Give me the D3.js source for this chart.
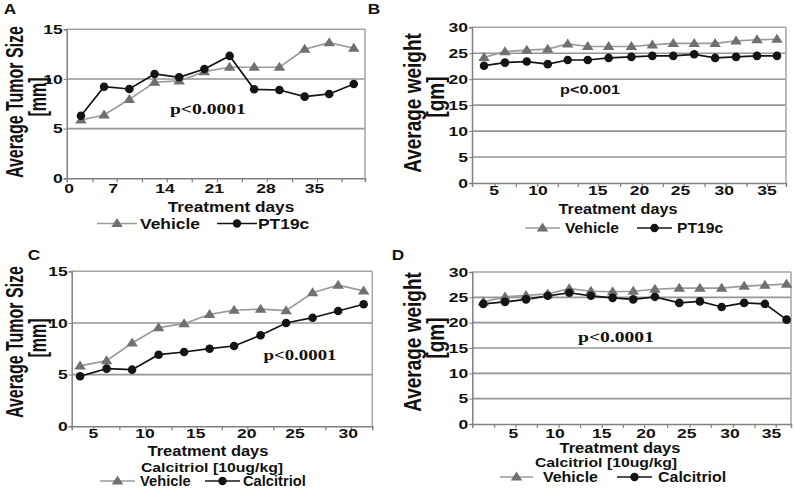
<!DOCTYPE html>
<html><head><meta charset="utf-8">
<script src="https://cdn.jsdelivr.net/npm/d3@7"></script>
<style>
body{margin:0;background:#fff}
svg{display:block}
text{font-family:"Liberation Sans",Arial,sans-serif;font-weight:bold;fill:#111}
</style></head>
<body><svg id="c" width="795" height="489"></svg>
<script>
// ---------- Panel A : tumour size, Vehicle vs PT19c ----------
const aDays     = [1.7, 5.0, 8.6, 12.2, 15.7, 19.3, 22.9, 26.4, 30.0, 33.6, 37.1, 40.6];
const aVehicle  = [5.87, 6.37, 7.95, 9.67, 9.8, 10.74, 11.18, 11.18, 11.18, 12.99, 13.65, 13.09];
const aPT19c    = [6.3, 9.22, 8.99, 10.5, 10.17, 11.0, 12.32, 8.96, 8.89, 8.22, 8.49, 9.5];
const aXTickAt  = [0, 6.3, 13.7, 20.7, 28.1, 35];
const aXLabels  = ["0", "7", "14", "21", "28", "35"];
const aYTicks   = [0, 5, 10, 15];

// ---------- Panel B : weight, Vehicle vs PT19c ----------
const bDays     = [3.9, 6.2, 8.6, 10.9, 13.1, 15.3, 17.6, 20.1, 22.4, 24.7, 27.0, 29.3, 31.6, 33.9, 36.1];
const bVehicle  = [24.2, 25.3, 25.6, 25.8, 26.8, 26.3, 26.3, 26.3, 26.6, 26.9, 26.9, 26.9, 27.4, 27.6, 27.7];
const bPT19c    = [22.6, 23.2, 23.4, 22.9, 23.7, 23.7, 24.1, 24.3, 24.5, 24.5, 24.8, 24.1, 24.3, 24.5, 24.5];
const bXTickAt  = [5, 9.84, 16.4, 21.0, 25.5, 30.3, 35];
const bXLabels  = ["5", "10", "15", "20", "25", "30", "35"];
const bYTicks   = [0, 5, 10, 15, 20, 25, 30];

// ---------- Panel C : tumour size, Vehicle vs Calcitriol ----------
const cDays       = [3.7, 6.3, 8.8, 11.4, 13.9, 16.4, 18.8, 21.4, 23.9, 26.5, 29.0, 31.5];
const cVehicle    = [5.84, 6.35, 8.06, 9.55, 9.93, 10.84, 11.23, 11.33, 11.19, 12.93, 13.65, 13.1];
const cCalcitriol = [4.84, 5.58, 5.48, 6.93, 7.19, 7.51, 7.77, 8.81, 10.0, 10.51, 11.16, 11.81];
const cXTickAt    = [5, 10.07, 15.04, 20.04, 24.77, 30];
const cXLabels    = ["5", "10", "15", "20", "25", "30"];
const cYTicks     = [0, 5, 10, 15];

// ---------- Panel D : weight, Vehicle vs Calcitriol ----------
const dDays       = [1.54, 4.04, 6.47, 8.97, 11.46, 13.96, 16.46, 18.84, 21.34, 24.15, 26.53, 29.04, 31.64, 34.03, 36.53];
const dVehicle    = [24.1, 25.1, 25.4, 25.7, 26.7, 26.2, 26.1, 26.2, 26.6, 26.8, 26.8, 26.8, 27.2, 27.4, 27.6];
const dCalcitriol = [23.7, 24.1, 24.6, 25.3, 25.9, 25.3, 24.9, 24.6, 25.1, 23.9, 24.2, 23.1, 23.9, 23.7, 20.6];
const dXTickAt    = [5, 9.8, 15.2, 20.3, 25, 30, 34.8];
const dXLabels    = ["5", "10", "15", "20", "25", "30", "35"];
const dYTicks     = [0, 5, 10, 15, 20, 25, 30];

const seriesNames = ["Vehicle", "PT19c", "Calcitriol"];
const pValues = ["p<0.0001", "p<0.001", "p<0.0001", "p<0.0001"];

const svg = d3.select("#c");
const SERIF = '"Liberation Serif","Times New Roman",serif';

function label(g, x, y, s, o = {}) {
  const sx = o.sx || 1;
  const tr = `translate(${x},${y})` + (o.rot ? ` rotate(-90) scale(1,${sx})` : ` scale(${sx},1)`);
  const t = g.append("text").attr("transform", tr)
    .attr("text-anchor", o.anchor || "middle")
    .attr("dominant-baseline", "central")
    .style("font-size", (o.size || 12) + "px")
    .text(s);
  if (o.serif) t.style("font-family", SERIF);
  if (o.fill) t.style("fill", o.fill);
  return t;
}

const VEH_LINE = "#9b9b9b", VEH_MARK = "#707070", TRT = "#141414";
function triPath(w, h) { return `M0,${-h*0.6}L${w/2},${h*0.4}L${-w/2},${h*0.4}Z`; }

function panel(cfg) {
  const g = svg.append("g");
  const b = cfg.box;
  const x = d3.scaleLinear().domain(cfg.xDomain).range([b.l, b.r]);
  const y = d3.scaleLinear().domain([0, d3.max(cfg.yTicks)]).range([b.b, b.t]);
  const yMax = d3.max(cfg.yTicks);

  g.selectAll("line.grid").data(cfg.yTicks.filter(v => v > 0 && v < yMax)).join("line")
    .attr("x1", b.l).attr("x2", b.r).attr("y1", d => y(d)).attr("y2", d => y(d))
    .attr("stroke", "#959595").attr("stroke-width", 1.6);
  g.append("line").attr("x1", b.l).attr("x2", b.r).attr("y1", y(yMax)).attr("y2", y(yMax))
    .attr("stroke", "#a5a5a5").attr("stroke-width", 1.5);
  g.append("line").attr("x1", b.r).attr("x2", b.r).attr("y1", y(yMax)).attr("y2", y(0))
    .attr("stroke", "#a5a5a5").attr("stroke-width", 1.5);

  const mids = d3.pairs(cfg.days).map(([p, q]) => (p + q) / 2);
  const xAx = g.append("g").attr("transform", `translate(0,${b.b})`)
    .call(d3.axisBottom(x).tickValues(mids).tickSize(4).tickFormat(""));
  xAx.select(".domain").attr("stroke", "#808080").attr("stroke-width", 1.5);
  xAx.selectAll(".tick line").attr("stroke", "#808080").attr("stroke-width", 1.2);

  const yAx = g.append("g").attr("transform", `translate(${b.l},0)`)
    .call(d3.axisLeft(y).tickValues(cfg.yTicks).tickSize(3).tickFormat(""));
  yAx.select(".domain").attr("stroke", "#808080").attr("stroke-width", 1.5);
  yAx.selectAll(".tick line").attr("stroke", "#808080");

  cfg.yTicks.forEach(v => label(g, b.l - 4, y(v), String(v), {anchor: "end", size: 13.5, sx: 1.3}));
  cfg.xTickAt.forEach((v, i) => label(g, x(v), cfg.xLabY, cfg.xLabels[i], {size: 13.5, sx: 1.3}));

  const line = d3.line().x((d, i) => x(cfg.days[i])).y(d => y(d));
  g.append("path").attr("d", line(cfg.veh)).attr("fill", "none").attr("stroke", VEH_LINE).attr("stroke-width", 1.7);
  g.append("path").attr("d", line(cfg.trt)).attr("fill", "none").attr("stroke", TRT).attr("stroke-width", 1.7);
  g.selectAll("path.tri").data(cfg.veh).join("path").attr("class", "tri")
    .attr("d", triPath(11.5, 9)).attr("fill", VEH_MARK)
    .attr("transform", (d, i) => `translate(${x(cfg.days[i])},${y(d)})`);
  g.selectAll("circle.dot").data(cfg.trt).join("circle").attr("class", "dot")
    .attr("cx", (d, i) => x(cfg.days[i])).attr("cy", d => y(d)).attr("r", 4.3).attr("fill", TRT);

  label(g, x(cfg.p.at[0]), y(cfg.p.at[1]), cfg.p.text, cfg.p.opt);

  label(g, cfg.xt.x, cfg.xt.y, "Treatment days", {size: 15, sx: cfg.xt.sx});
  if (cfg.sub) label(g, cfg.sub.x, cfg.sub.y, "Calcitriol [10ug/kg]", {size: 13.5, sx: 1.17});
  label(g, cfg.yt.x, cfg.yt.y, cfg.yt.text, {rot: true, size: cfg.yt.size, sx: cfg.yt.sx});
  label(g, cfg.yu.x, cfg.yu.y, cfg.yu.text, {rot: true, size: cfg.yt.size, sx: cfg.yt.sx});
  label(g, cfg.letter.x, cfg.letter.y, cfg.letter.text, {size: 15, sx: 1.15});

  const L = cfg.leg;
  const it = [
    {x1: L.a[0], x2: L.a[1], tx: L.a[2], name: seriesNames[0], veh: true},
    {x1: L.b[0], x2: L.b[1], tx: L.b[2], name: cfg.trtName, veh: false}
  ];
  it.forEach(d => {
    g.append("line").attr("x1", d.x1).attr("x2", d.x2).attr("y1", L.y).attr("y2", L.y)
      .attr("stroke", d.veh ? VEH_LINE : TRT).attr("stroke-width", 1.7);
    const cx = (d.x1 + d.x2) / 2;
    if (d.veh) g.append("path").attr("d", triPath(11.5, 9)).attr("fill", VEH_MARK).attr("transform", `translate(${cx},${L.y})`);
    else g.append("circle").attr("cx", cx).attr("cy", L.y).attr("r", 4.2).attr("fill", TRT);
    label(g, d.tx, L.y, d.name, {anchor: "start", size: L.size, sx: L.sx});
  });
}

panel({
  box: {l: 66.7, r: 365, t: 29.3, b: 178.3}, xDomain: [-0.33, 42.2],
  days: aDays, veh: aVehicle, trt: aPT19c, trtName: seriesNames[1],
  yTicks: aYTicks, xTickAt: aXTickAt, xLabels: aXLabels, xLabY: 188.5,
  p: {text: pValues[0], at: [19.8, 6.98], opt: {serif: true, size: 14.5, sx: 1.35}},
  xt: {x: 231, y: 206.5, sx: 1.15},
  yt: {x: 14, y: 102, text: "Average Tumor Size", size: 16, sx: 1.55},
  yu: {x: 37, y: 97, text: "[mm]"},
  letter: {x: 10, y: 8, text: "A"},
  leg: {y: 223.5, a: [97, 137, 140], b: [217, 257, 258], size: 15, sx: 1.16}
});
panel({
  box: {l: 472, r: 786, t: 27.3, b: 183}, xDomain: [2.58, 37.09],
  days: bDays, veh: bVehicle, trt: bPT19c, trtName: seriesNames[1],
  yTicks: bYTicks, xTickAt: bXTickAt, xLabels: bXLabels, xLabY: 190.7,
  p: {text: pValues[1], at: [15.55, 18.1], opt: {size: 13.5, sx: 1.2}},
  xt: {x: 618, y: 208.3, sx: 1.08},
  yt: {x: 412.5, y: 103, text: "Average weight", size: 19, sx: 1.3},
  yu: {x: 436, y: 97, text: "[gm]"},
  letter: {x: 374, y: 8, text: "B"},
  leg: {y: 228, a: [525, 560, 565], b: [637, 672, 677], size: 14, sx: 1.12}
});
panel({
  box: {l: 71.7, r: 372.3, t: 271.3, b: 426.3}, xDomain: [2.88, 32.35],
  days: cDays, veh: cVehicle, trt: cCalcitriol, trtName: seriesNames[2],
  yTicks: cYTicks, xTickAt: cXTickAt, xLabels: cXLabels, xLabY: 433.5,
  p: {text: pValues[2], at: [25.26, 6.9], opt: {serif: true, size: 14.5, sx: 1.3}},
  xt: {x: 208, y: 450.5, sx: 1.1},
  sub: {x: 212, y: 467},
  yt: {x: 14, y: 342, text: "Average Tumor Size", size: 16, sx: 1.55},
  yu: {x: 37, y: 338, text: "[mm]"},
  letter: {x: 34, y: 254, text: "C"},
  leg: {y: 481, a: [100, 135, 140], b: [205, 240, 243], size: 14, sx: 1.05}
});
panel({
  box: {l: 472.3, r: 791, t: 272, b: 424}, xDomain: [0.27, 37.04],
  days: dDays, veh: dVehicle, trt: dCalcitriol, trtName: seriesNames[2],
  yTicks: dYTicks, xTickAt: dXTickAt, xLabels: dXLabels, xLabY: 433,
  p: {text: pValues[3], at: [16.85, 17.17], opt: {serif: true, size: 14.5, sx: 1.35}},
  xt: {x: 620, y: 447.5, sx: 1.1},
  sub: {x: 606, y: 462},
  yt: {x: 412.5, y: 342, text: "Average weight", size: 19, sx: 1.3},
  yu: {x: 436, y: 338, text: "[gm]"},
  letter: {x: 398, y: 254, text: "D"},
  leg: {y: 477, a: [500, 533, 543], b: [617, 652, 658], size: 14.5, sx: 1.1}
});
</script></body></html>
